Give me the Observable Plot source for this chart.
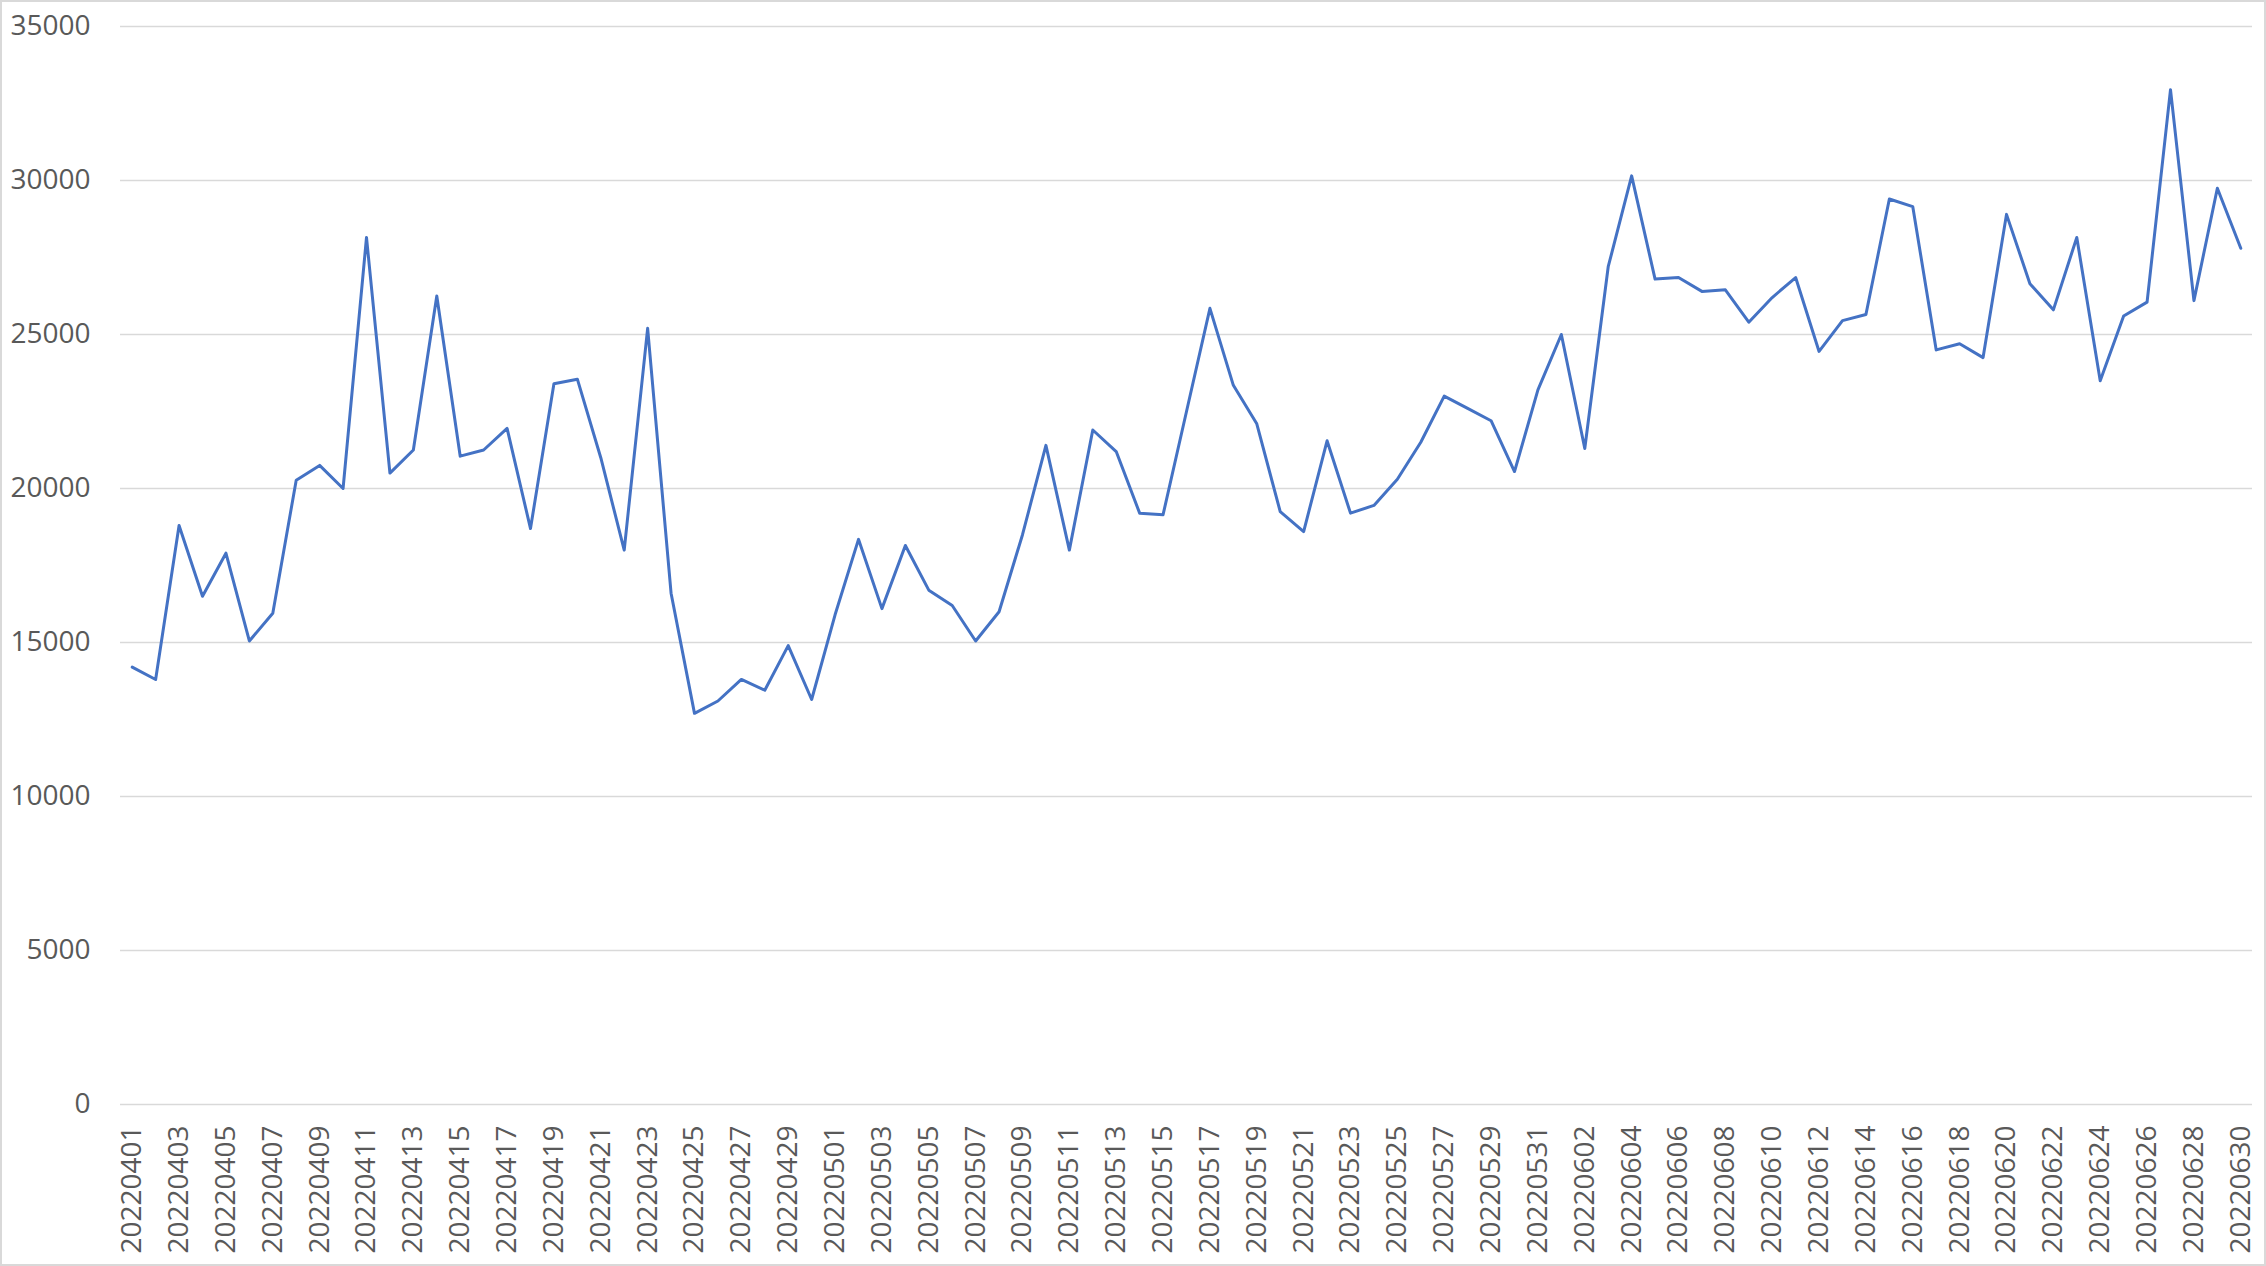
<!DOCTYPE html>
<html>
<head>
<meta charset="utf-8">
<script src="https://cdn.jsdelivr.net/npm/d3@7"></script>
<script src="https://cdn.jsdelivr.net/npm/@observablehq/plot@0.6"></script>
<style>
  html, body { margin: 0; padding: 0; background: #fff; }
  #wrap { position: relative; width: 2266px; height: 1266px; overflow: hidden; }
  #border { position: absolute; left: 0; top: 0; width: 2266px; height: 1266px; box-sizing: border-box; border: 2px solid #d9d9d9; pointer-events: none; }
  #chart { position: absolute; left: 0; top: 0; }
</style>
</head>
<body>
<div id="wrap"><div id="chart"></div><div id="border"></div></div>
<script>
const dates = [
  "20220401","20220402","20220403","20220404","20220405","20220406","20220407","20220408","20220409","20220410",
  "20220411","20220412","20220413","20220414","20220415","20220416","20220417","20220418","20220419","20220420",
  "20220421","20220422","20220423","20220424","20220425","20220426","20220427","20220428","20220429","20220430",
  "20220501","20220502","20220503","20220504","20220505","20220506","20220507","20220508","20220509","20220510",
  "20220511","20220512","20220513","20220514","20220515","20220516","20220517","20220518","20220519","20220520",
  "20220521","20220522","20220523","20220524","20220525","20220526","20220527","20220528","20220529","20220530",
  "20220531","20220601","20220602","20220603","20220604","20220605","20220606","20220607","20220608","20220609",
  "20220610","20220611","20220612","20220613","20220614","20220615","20220616","20220617","20220618","20220619",
  "20220620","20220621","20220622","20220623","20220624","20220625","20220626","20220627","20220628","20220629",
  "20220630"
];
const values = [
  14200, 13800, 18800, 16500, 17900, 15050, 15950, 20270, 20750, 20000,
  28150, 20500, 21250, 26250, 21050, 21250, 21950, 18700, 23400, 23550,
  21000, 18000, 25200, 16600, 12700, 13100, 13800, 13450, 14900, 13150,
  15900, 18350, 16100, 18150, 16700, 16200, 15050, 16000, 18500, 21400,
  18000, 21900, 21200, 19200, 19150, 22500, 25850, 23350, 22100, 19250,
  18600, 21550, 19200, 19450, 20300, 21500, 23000, 22600, 22200, 20550,
  23200, 25000, 21300, 27200, 30150, 26800, 26850, 26400, 26450, 25400,
  26200, 26850, 24450, 25450, 25650, 29400, 29150, 24500, 24700, 24250,
  28900, 26650, 25800, 28150, 23500, 25600, 26050, 32950, 26100, 29750,
  27800
];
const yTicks = [0, 5000, 10000, 15000, 20000, 25000, 30000, 35000];
const xTicks = dates.filter((d, i) => i % 2 === 0);

const data = dates.map((d, i) => ({date: d, value: values[i]}));

const chart = Plot.plot({
  width: 2266,
  height: 1266,
  marginLeft: 120,
  marginRight: 14,
  marginTop: 26,
  marginBottom: 162,
  style: {fontFamily: "'Open Sans', sans-serif", background: "#fff", color: "#595959"},
  x: {type: "point", domain: dates, padding: 0.5, label: null},
  y: {domain: [0, 35000], label: null},
  marks: [
    Plot.gridY(yTicks, {stroke: "#d9d9d9", strokeOpacity: 1, strokeWidth: 1.5}),
    Plot.axisY(yTicks, {tickSize: 0, tickPadding: 30, fontSize: 28, fill: "#595959", tickFormat: d => String(d), label: null}),
    Plot.axisX(xTicks, {tickSize: 0, tickPadding: 21, tickRotate: -90, fontSize: 28, fill: "#595959", label: null}),
    Plot.lineY(data, {x: "date", y: "value", stroke: "#4472C4", strokeWidth: 3, strokeLinejoin: "round"})
  ]
});
document.getElementById("chart").appendChild(chart);
</script>
</body>
</html>
